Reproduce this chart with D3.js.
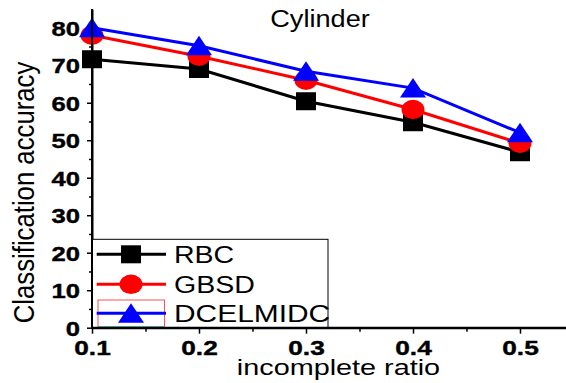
<!DOCTYPE html>
<html>
<head>
<meta charset="utf-8">
<script src="https://cdn.jsdelivr.net/npm/d3@7"></script>
<style>
  html, body { margin: 0; padding: 0; background: #fff; }
  svg { display: block; font-family: "Liberation Sans", Arial, sans-serif; }
</style>
</head>
<body>
<svg id="chart" width="566" height="383"></svg>
<script>
const categories = [0.1, 0.2, 0.3, 0.4, 0.5];
const rbc = [71.6, 69.0, 60.4, 54.8, 46.8];
const gbsd = [78.0, 72.4, 66.0, 58.2, 49.2];
const dcelmidc = [80.0, 75.2, 68.4, 63.9, 52.0];
const seriesNames = ["RBC", "GBSD", "DCELMIDC"];
const seriesColors = ["#000000", "#ff0000", "#0000ff"];
const seriesShapes = ["square", "circle", "triangle"];
const yTicks = [0, 10, 20, 30, 40, 50, 60, 70, 80];
const xTicks = [0.1, 0.2, 0.3, 0.4, 0.5];
const title = "Cylinder";
const xTitle = "incomplete ratio";
const yTitle = "Classification accuracy";

const svg = d3.select("#chart");

const x = d3.scaleLinear().domain([0.1, 0.543]).range([92, 566]);
const y = d3.scaleLinear().domain([0, 85]).range([327.7, 9]);

function stretch(sel, f) {
  sel.each(function () {
    const w = this.getComputedTextLength();
    d3.select(this).attr("textLength", w * f).attr("lengthAdjust", "spacingAndGlyphs");
  });
}

// minor ticks
svg.append("g").attr("transform", `translate(${x(0.1)},0)`)
  .call(d3.axisLeft(y).tickValues(d3.range(5, 85, 10)).tickSize(3).tickFormat(""))
  .call(g => g.select(".domain").remove())
  .call(g => g.selectAll("line").attr("stroke-width", 1.5));
svg.append("g").attr("transform", `translate(0,${y(0)})`)
  .call(d3.axisBottom(x).tickValues([0.15, 0.25, 0.35, 0.45]).tickSize(4).tickFormat(""))
  .call(g => g.select(".domain").remove())
  .call(g => g.selectAll("line").attr("stroke-width", 1.5));

// y axis
const gy = svg.append("g").attr("transform", `translate(${x(0.1)},0)`)
  .call(d3.axisLeft(y).tickValues(yTicks).tickSize(5).tickSizeOuter(0).tickPadding(7).tickFormat(d3.format("d")));
gy.select(".domain").attr("stroke-width", 2);
gy.selectAll("line").attr("stroke-width", 1.5);
gy.selectAll("text").attr("font-size", 21).attr("font-weight", "bold")
  .attr("font-family", "'Liberation Sans', Arial, sans-serif").attr("dy", "0.36em")
  .attr("fill", "#000").attr("stroke", "#000").attr("stroke-width", 0.4);
stretch(gy.selectAll("text"), 1.22);

// x axis
const gx = svg.append("g").attr("transform", `translate(0,${y(0)})`)
  .call(d3.axisBottom(x).tickValues(xTicks).tickSize(6).tickSizeOuter(0).tickPadding(6).tickFormat(d3.format(".1f")));
gx.select(".domain").attr("stroke-width", 2);
gx.selectAll("line").attr("stroke-width", 1.5);
gx.selectAll("text").attr("font-size", 21).attr("font-weight", "bold")
  .attr("font-family", "'Liberation Sans', Arial, sans-serif")
  .attr("fill", "#000").attr("stroke", "#000").attr("stroke-width", 0.4);
stretch(gx.selectAll("text"), 1.25);

// titles
const t = svg.append("text").attr("x", 320).attr("y", 27).attr("text-anchor", "middle")
  .attr("font-size", 23).text(title);
stretch(t, 1.18);
const xt = svg.append("text").attr("x", 338.5).attr("y", 375).attr("text-anchor", "middle")
  .attr("font-size", 22.5).text(xTitle);
stretch(xt, 1.28);
const yt = svg.append("text").attr("transform", "translate(34.3,192.5) rotate(-90)")
  .attr("text-anchor", "middle").attr("font-size", 30).text(yTitle);
yt.attr("textLength", 261.6).attr("lengthAdjust", "spacingAndGlyphs");

function drawMarker(g, shape, cx, cy, color) {
  if (shape === "square") {
    g.append("rect").attr("x", cx - 10).attr("y", cy - 9).attr("width", 20).attr("height", 18).attr("fill", color);
  } else if (shape === "circle") {
    g.append("ellipse").attr("cx", cx).attr("cy", cy).attr("rx", 11.5).attr("ry", 9.7).attr("fill", color);
  } else {
    g.append("path").attr("d", `M${cx},${cy - 10}L${cx + 13},${cy + 9.5}L${cx - 13},${cy + 9.5}Z`).attr("fill", color);
  }
}

const allSeries = [rbc, gbsd, dcelmidc];
const line = d3.line().x((d, i) => x(categories[i])).y(d => y(d));
allSeries.forEach((vals, s) => {
  const g = svg.append("g");
  g.append("path").datum(vals).attr("d", line).attr("fill", "none")
    .attr("stroke", seriesColors[s]).attr("stroke-width", 3);
  vals.forEach((v, i) => drawMarker(g, seriesShapes[s], x(categories[i]), y(v), seriesColors[s]));
});

// legend
const lg = svg.append("g");
lg.append("rect").attr("x", 92).attr("y", 239.3).attr("width", 236).attr("height", 88.4)
  .attr("fill", "#fff").attr("stroke", "#000").attr("stroke-width", 1);
const rowY = [254.3, 284.3, 313.3];
lg.append("rect").attr("x", 98).attr("y", 300).attr("width", 66.5).attr("height", 26.7)
  .attr("fill", "none").attr("stroke", "#ff5050").attr("stroke-width", 1);
lg.append("line").attr("x1", 98).attr("x2", 164.5).attr("y1", 326.7).attr("y2", 326.7)
  .attr("stroke", "#40d0d0").attr("stroke-width", 1);
seriesNames.forEach((name, s) => {
  lg.append("line").attr("x1", 96.7).attr("x2", 166).attr("y1", rowY[s]).attr("y2", rowY[s])
    .attr("stroke", seriesColors[s]).attr("stroke-width", 3);
  drawMarker(lg, seriesShapes[s], 131, rowY[s], seriesColors[s]);
  const tx = lg.append("text").attr("x", 174).attr("y", rowY[s] + 8.3).attr("font-size", 23).text(name);
  stretch(tx, name === "DCELMIDC" ? 1.3 : 1.24);
});
// redraw axis spines over legend box
svg.append("line").attr("x1", 92).attr("x2", 92).attr("y1", 9).attr("y2", 327.7).attr("stroke", "#000").attr("stroke-width", 2);
svg.append("line").attr("x1", 92).attr("x2", 566).attr("y1", 327.7).attr("y2", 327.7).attr("stroke", "#000").attr("stroke-width", 2);
</script>
</body>
</html>
